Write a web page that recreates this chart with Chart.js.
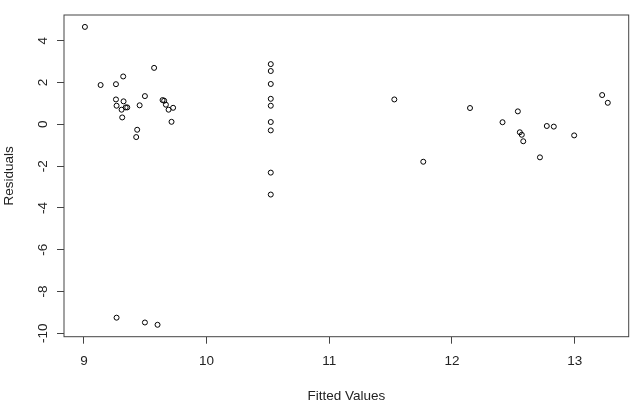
<!DOCTYPE html>
<html>
<head>
<meta charset="utf-8">
<script src="https://cdn.jsdelivr.net/npm/chart.js@4.4.1/dist/chart.umd.min.js"></script>
<style>
  html, body { margin: 0; padding: 0; background: #fff; }
  #wrap { width: 640px; height: 409px; position: relative; }
</style>
</head>
<body>
<div id="wrap"><canvas id="resid"></canvas></div>
<script>
// Residuals vs fitted values (R-style base plot)

const fittedValues = [
    9.008, 9.136, 9.261, 9.320, 9.572, 9.261, 9.323, 9.266, 9.307, 9.340,
    9.353, 9.312, 9.454, 9.497, 9.641, 9.654, 9.668, 9.690, 9.727, 9.714,
    9.434, 9.426, 9.266, 9.497, 9.600,
    10.523, 10.523, 10.523, 10.523, 10.523, 10.523, 10.523, 10.523, 10.523,
    11.530, 11.766, 12.147, 12.412, 12.537, 12.553, 12.569, 12.581, 12.717,
    12.773, 12.830, 12.996, 13.224, 13.270
];

const residuals = [
    4.66, 1.88, 1.92, 2.29, 2.70, 1.19, 1.10, 0.89, 0.70, 0.81,
    0.81, 0.33, 0.91, 1.35, 1.16, 1.13, 0.94, 0.70, 0.79, 0.12,
    -0.26, -0.61, -9.25, -9.48, -9.59,
    2.88, 2.55, 1.93, 1.22, 0.89, 0.11, -0.29, -2.31, -3.36,
    1.19, -1.79, 0.78, 0.10, 0.62, -0.38, -0.50, -0.81, -1.58,
    -0.08, -0.11, -0.53, 1.40, 1.03
];

const xTicks = [9, 10, 11, 12, 13];
const yTicks = [-10, -8, -6, -4, -2, 0, 2, 4];

const xLabel = 'Fitted Values';
const yLabel = 'Residuals';

// R pads the data range by 4% on each side
function rRange(values) {
    const lo = Math.min(...values);
    const hi = Math.max(...values);
    const pad = (hi - lo) * 0.04;
    return [lo - pad, hi + pad];
}

const [xMin, xMax] = rRange(fittedValues);
const [yMin, yMax] = rRange(residuals);

const FONT = { family: "'Liberation Sans', Arial, sans-serif", size: 13.5 };
const INK = '#222';
const LINE = '#444';

// frame around the plotting region
const boxPlugin = {
    id: 'box',
    afterDraw(chart) {
        const { ctx, chartArea: a } = chart;
        ctx.save();
        ctx.strokeStyle = LINE;
        ctx.lineWidth = 1;
        ctx.strokeRect(a.left, a.top, a.right - a.left, a.bottom - a.top);
        ctx.restore();
    }
};

const points = fittedValues.map((x, i) => ({ x: x, y: residuals[i] }));

new Chart(document.getElementById('resid'), {
    type: 'scatter',
    data: {
        datasets: [{
            data: points,
            pointStyle: 'circle',
            pointRadius: 2.5,
            pointBorderWidth: 1,
            pointBorderColor: '#000',
            pointBackgroundColor: 'rgba(0,0,0,0)'
        }]
    },
    options: {
        animation: false,
        responsive: true,
        maintainAspectRatio: false,
        layout: {
            padding: { top: 15, right: 11.3, left: 0, bottom: 0 }
        },
        plugins: {
            legend: { display: false },
            tooltip: { enabled: false },
            title: { display: false }
        },
        scales: {
            x: {
                type: 'linear',
                min: xMin,
                max: xMax,
                afterBuildTicks: scale => {
                    scale.ticks = xTicks.map(v => ({ value: v }));
                },
                afterFit: scale => { scale.height = 72.3; },
                grid: {
                    drawOnChartArea: false,
                    drawTicks: true,
                    tickLength: 7,
                    color: LINE
                },
                border: { display: false },
                ticks: {
                    color: INK,
                    font: FONT,
                    padding: 9,
                    maxRotation: 0,
                    autoSkip: false
                },
                title: {
                    display: true,
                    text: xLabel,
                    color: INK,
                    font: FONT,
                    padding: { top: 0, bottom: 5 }
                }
            },
            y: {
                type: 'linear',
                min: yMin,
                max: yMax,
                afterBuildTicks: scale => {
                    scale.ticks = yTicks.map(v => ({ value: v }));
                },
                afterFit: scale => { scale.width = 64; },
                grid: {
                    drawOnChartArea: false,
                    drawTicks: true,
                    tickLength: 7,
                    color: LINE
                },
                border: { display: false },
                ticks: {
                    color: INK,
                    font: FONT,
                    padding: 4,
                    minRotation: 90,
                    maxRotation: 90,
                    crossAlign: 'center',
                    autoSkip: false
                },
                title: {
                    display: true,
                    text: yLabel,
                    color: INK,
                    font: FONT,
                    padding: { top: 1, bottom: 0 }
                }
            }
        }
    },
    plugins: [boxPlugin]
});
</script>
</body>
</html>
